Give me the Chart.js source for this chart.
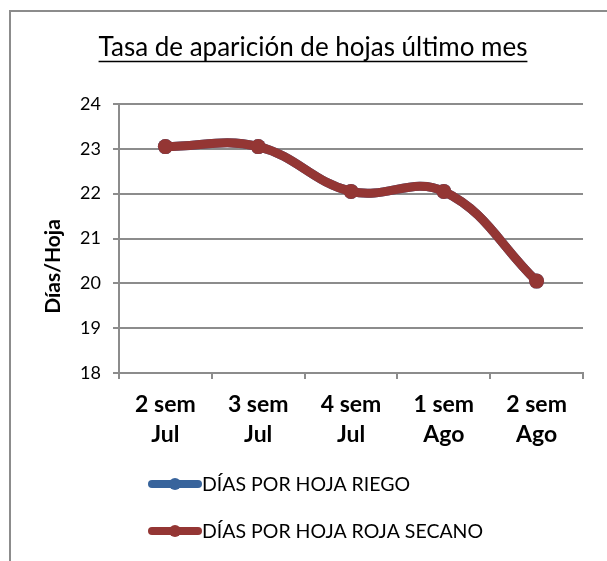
<!DOCTYPE html>
<html>
<head>
<meta charset="utf-8">
<script src="https://cdn.jsdelivr.net/npm/chart.js@4/dist/chart.umd.min.js"></script>
<style>
  html, body { margin: 0; padding: 0; background: #fff; }
  #wrap { width: 607px; height: 561px; }
</style>
</head>
<body>
<div id="wrap"><canvas id="chart" width="607" height="561"></canvas></div>
<script>
const titleText = "Tasa de aparición de hojas último mes";
const yTitle = "Días/Hoja";
const categories = [["2 sem", "Jul"], ["3 sem", "Jul"], ["4 sem", "Jul"], ["1 sem", "Ago"], ["2 sem", "Ago"]];
const riego = [23.05, 23.05, 22.05, 22.05, 20.05];
const secano = [23.05, 23.05, 22.05, 22.05, 20.05];
const seriesNames = ["DÍAS POR HOJA RIEGO", "DÍAS POR HOJA ROJA SECANO"];
const yMin = 18, yMax = 24, yStep = 1;

const BLUE = "#38649c";
const RED = "#943634";
const GRID = "#8c8c8c";
const FONT = "Lato, 'Open Sans', sans-serif";
const TITLE_SIZE = 26;

// grey frame round the chart, title underline, y title and legend
const decor = {
  id: "decor",
  beforeDraw(chart) {
    const ctx = chart.ctx;
    ctx.save();
    ctx.strokeStyle = GRID;
    ctx.lineWidth = 2;
    ctx.beginPath();
    ctx.moveTo(10, chart.height);
    ctx.lineTo(10, 11);
    ctx.lineTo(chart.width, 11);
    ctx.stroke();
    ctx.restore();
  },
  afterDraw(chart) {
    const ctx = chart.ctx;
    const area = chart.chartArea;
    ctx.save();

    // underline the title
    const tb = chart.titleBlock;
    ctx.font = TITLE_SIZE + "px " + FONT;
    const w = ctx.measureText(titleText).width;
    const cx = (tb.left + tb.right) / 2;
    const mid = tb.top + tb.options.padding.top + TITLE_SIZE * 1.2 / 2;
    const uy = mid + TITLE_SIZE * 0.36 + 4;
    ctx.strokeStyle = "#000";
    ctx.lineWidth = 1.5;
    ctx.beginPath();
    ctx.moveTo(cx - w / 2, uy);
    ctx.lineTo(cx + w / 2, uy);
    ctx.stroke();

    // y axis title
    ctx.fillStyle = "#000";
    ctx.font = "bold 21px " + FONT;
    ctx.translate(53, (area.top + area.bottom) / 2 + 28);
    ctx.rotate(-Math.PI / 2);
    ctx.textAlign = "center";
    ctx.textBaseline = "middle";
    ctx.fillText(yTitle, 0, 0);
    ctx.setTransform(1, 0, 0, 1, 0, 0);

    // legend, one entry per row
    ctx.font = "19.5px " + FONT;
    ctx.textAlign = "left";
    ctx.textBaseline = "middle";
    chart.data.datasets.forEach((ds, i) => {
      const y = area.bottom + 111 + i * 47;
      const x0 = 148, x1 = 202;
      ctx.strokeStyle = ds.borderColor;
      ctx.lineWidth = 8;
      ctx.lineCap = "round";
      ctx.beginPath();
      ctx.moveTo(x0 + 4, y);
      ctx.lineTo(x1 - 4, y);
      ctx.stroke();
      ctx.fillStyle = ds.borderColor;
      ctx.beginPath();
      ctx.arc((x0 + x1) / 2, y, 6, 0, Math.PI * 2);
      ctx.fill();
      ctx.fillStyle = "#000";
      ctx.fillText(ds.label, x1, y + 1);
    });
    ctx.restore();
  }
};

new Chart(document.getElementById("chart"), {
  type: "line",
  data: {
    labels: categories,
    datasets: [
      {
        label: seriesNames[0],
        data: riego,
        order: 2,
        borderColor: BLUE,
        backgroundColor: BLUE,
        borderWidth: 9,
        tension: 0.4,
        pointRadius: 7.5,
        pointBorderWidth: 0,
        borderCapStyle: "round"
      },
      {
        label: seriesNames[1],
        data: secano,
        order: 1,
        borderColor: RED,
        backgroundColor: RED,
        borderWidth: 9,
        tension: 0.4,
        pointRadius: 7.5,
        pointBorderWidth: 0,
        borderCapStyle: "round"
      }
    ]
  },
  options: {
    responsive: false,
    animation: false,
    layout: { padding: { top: 0, left: 43, right: 24, bottom: 0 } },
    plugins: {
      legend: { display: false },
      tooltip: { enabled: false },
      title: {
        display: true,
        text: titleText,
        color: "#000",
        font: { family: FONT, size: TITLE_SIZE, weight: "normal", lineHeight: 1.2 },
        padding: { top: 32.5, bottom: 104 - 32.5 - TITLE_SIZE * 1.2 }
      }
    },
    scales: {
      x: {
        offset: true,
        afterFit(s) { s.height = 188; },
        grid: {
          offset: true,
          drawOnChartArea: false,
          drawTicks: true,
          tickLength: 6,
          color: GRID,
          lineWidth: 2
        },
        border: { display: true, color: GRID, width: 2 },
        ticks: {
          color: "#000",
          padding: 11,
          maxRotation: 0,
          autoSkip: false,
          font: { family: FONT, size: 23, weight: "bold", lineHeight: 1.3 }
        }
      },
      y: {
        min: yMin,
        max: yMax,
        afterFit(s) { s.width = 119 - 43; },
        grid: {
          drawTicks: true,
          tickLength: 6,
          color: GRID,
          lineWidth: 2
        },
        border: { display: true, color: GRID, width: 2 },
        ticks: {
          stepSize: yStep,
          color: "#000",
          padding: 12,
          font: { family: FONT, size: 18 }
        }
      }
    }
  },
  plugins: [decor]
});
</script>
</body>
</html>
